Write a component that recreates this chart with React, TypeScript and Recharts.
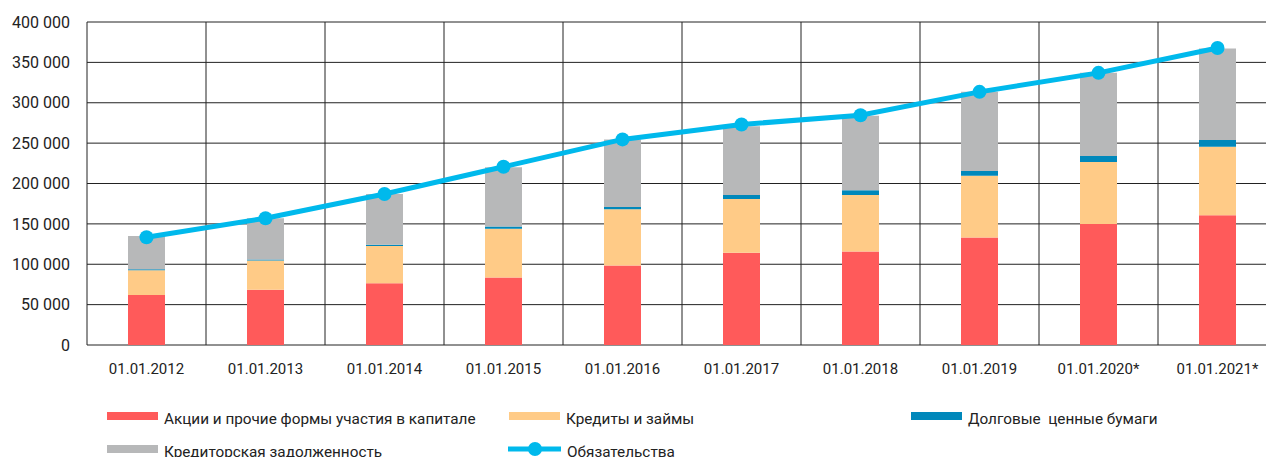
import { ComposedChart, Bar, Line, XAxis, YAxis, CartesianGrid } from "recharts";

const categories = [
  "01.01.2012", "01.01.2013", "01.01.2014", "01.01.2015", "01.01.2016",
  "01.01.2017", "01.01.2018", "01.01.2019", "01.01.2020*", "01.01.2021*",
];
const shares = [62000, 68400, 76600, 83600, 98400, 114100, 115700, 133000, 149900, 160700];
const loans = [30700, 36200, 46100, 60500, 69700, 66700, 70100, 76600, 76700, 84800];
const bonds = [1000, 1400, 1300, 2500, 2900, 5000, 5800, 5800, 7400, 8300];
const payables = [41200, 51000, 63000, 73400, 83600, 85200, 92200, 98100, 103000, 113300];
const liabilities = [133500, 157000, 187000, 220700, 254600, 273100, 284600, 313500, 337000, 367800];
const yTicks = [0, 50000, 100000, 150000, 200000, 250000, 300000, 350000, 400000];

const data = categories.map((name, i) => ({
  name,
  shares: shares[i],
  loans: loans[i],
  bonds: bonds[i],
  payables: payables[i],
  liabilities: liabilities[i],
}));

// boundaries between the categories, used only for vertical grid lines
const bandTicks = categories.map((_, i) => i).concat(categories.length);

const FONT = "Roboto, 'Liberation Sans', sans-serif";
const fmt = (v: number) => String(v).replace(/\B(?=(\d{3})+(?!\d))/g, " ");

const legendItems = [
  { label: "Акции и прочие формы участия в капитале", color: "#FF5A5A", left: 107, top: 412, kind: "box" },
  { label: "Кредиты и займы", color: "#FFCB87", left: 509, top: 412, kind: "box" },
  { label: "Долговые  ценные бумаги", color: "#0088BB", left: 911, top: 412, kind: "box" },
  { label: "Кредиторская задолженность", color: "#B7B8B9", left: 107, top: 445, kind: "box" },
  { label: "Обязательства", color: "#00B9EC", left: 508, top: 445, kind: "line" },
];

export default function App() {
  return (
    <div style={{ position: "absolute", left: 0, top: 0, width: 1266, height: 457, overflow: "hidden", fontFamily: FONT }}>
      <ComposedChart
        width={1290}
        height={385}
        data={data}
        margin={{ top: 22, right: 13, left: 0, bottom: 0 }}
      >
        <XAxis xAxisId="grid" type="number" dataKey={(d: any) => categories.indexOf(d.name)} domain={[0, categories.length]} ticks={bandTicks} allowDataOverflow hide />
        <CartesianGrid xAxisId="grid" stroke="#222" strokeWidth={1} />
        <XAxis
          dataKey="name"
          height={40}
          axisLine={false}
          tickLine={false}
          tickSize={0}
          tickMargin={18}
          interval={0}
          tick={{ fill: "#222", fontSize: 15, fontFamily: FONT }}
        />
        <YAxis
          width={87}
          domain={[0, 400000]}
          ticks={yTicks}
          axisLine={false}
          tickLine={false}
          tickSize={0}
          tickMargin={17}
          tickFormatter={fmt}
          tick={{ fill: "#222", fontSize: 16, fontFamily: FONT }}
        />
        <Bar dataKey="shares" stackId="a" fill="#FF5A5A" barSize={37} isAnimationActive={false} />
        <Bar dataKey="loans" stackId="a" fill="#FFCB87" barSize={37} isAnimationActive={false} />
        <Bar dataKey="bonds" stackId="a" fill="#0088BB" barSize={37} isAnimationActive={false} />
        <Bar dataKey="payables" stackId="a" fill="#B7B8B9" barSize={37} isAnimationActive={false} />
        <Line
          dataKey="liabilities"
          stroke="#00B9EC"
          strokeWidth={5}
          dot={{ r: 7, fill: "#00B9EC", stroke: "none" }}
          isAnimationActive={false}
        />
      </ComposedChart>
      {legendItems.map((it) => (
        <div key={it.label} style={{ position: "absolute", left: it.left, top: it.top - 8, height: 24, display: "flex", alignItems: "center" }}>
          {it.kind === "box" ? (
            <div style={{ width: 51, height: 8, background: it.color }} />
          ) : (
            <svg width={53} height={16}>
              <line x1={0} y1={8} x2={53} y2={8} stroke={it.color} strokeWidth={5} strokeLinecap="round" />
              <circle cx={27} cy={8} r={7} fill={it.color} />
            </svg>
          )}
          <span style={{ marginLeft: 6, marginTop: 6, fontSize: 15.3, color: "#222", whiteSpace: "pre" }}>{it.label}</span>
        </div>
      ))}
    </div>
  );
}
